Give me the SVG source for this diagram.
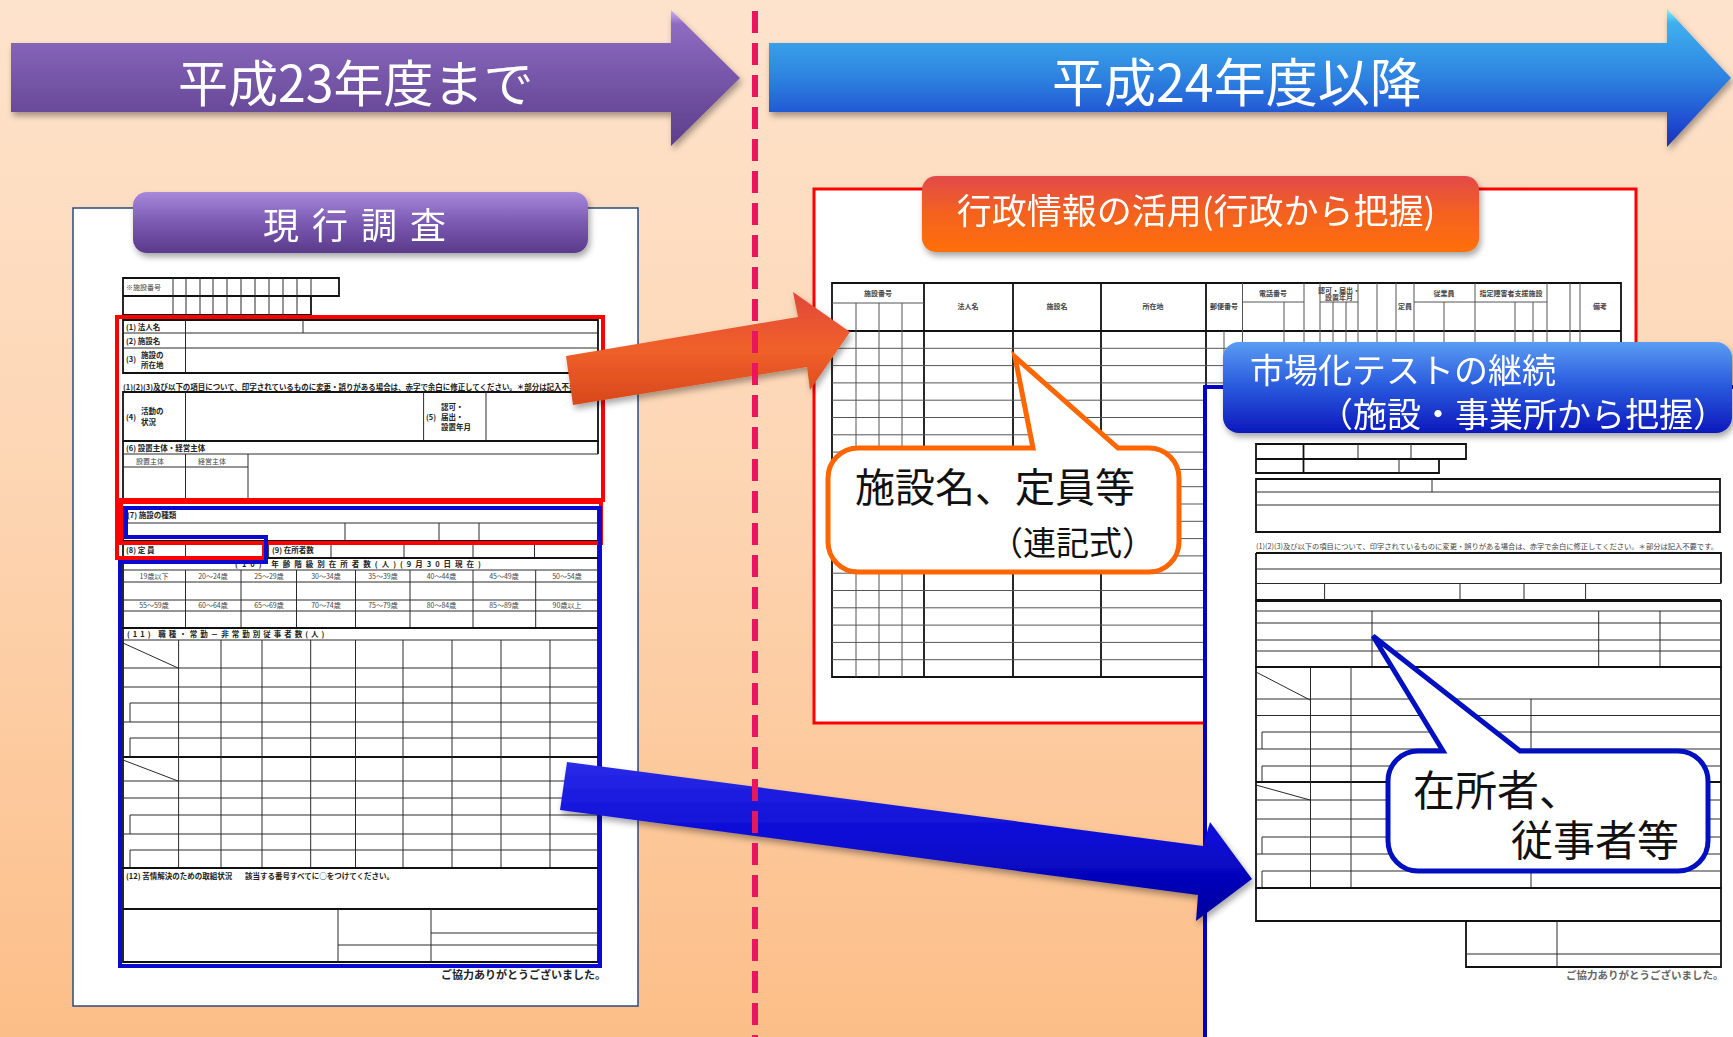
<svg xmlns="http://www.w3.org/2000/svg" width="1733" height="1037" viewBox="0 0 1733 1037">
<defs>
<linearGradient id="bg" x1="0" y1="0" x2="0" y2="1">
<stop offset="0" stop-color="#fee3cc"/><stop offset="0.45" stop-color="#fdd6b4"/><stop offset="1" stop-color="#fcbe88"/>
</linearGradient>
<linearGradient id="gPurple" x1="0" y1="0" x2="0" y2="1">
<stop offset="0" stop-color="#d2b2f5"/><stop offset="0.1" stop-color="#8e6cc2"/><stop offset="0.5" stop-color="#7656a8"/><stop offset="1" stop-color="#5c3e8a"/>
</linearGradient>
<linearGradient id="gBlueH" x1="0" y1="0" x2="0" y2="1">
<stop offset="0" stop-color="#7ff0ff"/><stop offset="0.1" stop-color="#3fb0ee"/><stop offset="0.5" stop-color="#2d82e0"/><stop offset="0.85" stop-color="#1f48d0"/><stop offset="1" stop-color="#1a30b4"/>
</linearGradient>
<linearGradient id="gTabP" x1="0" y1="0" x2="0" y2="1">
<stop offset="0" stop-color="#a888da"/><stop offset="0.5" stop-color="#7b5ab2"/><stop offset="1" stop-color="#5a3a8a"/>
</linearGradient>
<linearGradient id="gTabO" x1="0" y1="0" x2="0" y2="1">
<stop offset="0" stop-color="#e24a4a"/><stop offset="0.5" stop-color="#f4621e"/><stop offset="1" stop-color="#ff700a"/>
</linearGradient>
<linearGradient id="gTabB" x1="0" y1="0" x2="0" y2="1">
<stop offset="0" stop-color="#5a9cf2"/><stop offset="0.45" stop-color="#2c5ee0"/><stop offset="1" stop-color="#0c18bc"/>
</linearGradient>
<linearGradient id="gRedA" x1="0" y1="0" x2="0" y2="1">
<stop offset="0" stop-color="#e0483a"/><stop offset="0.5" stop-color="#f0602a"/><stop offset="1" stop-color="#d8481c"/>
</linearGradient>
<linearGradient id="gBlueA" x1="0" y1="0" x2="0" y2="1">
<stop offset="0" stop-color="#2a2ae8"/><stop offset="0.5" stop-color="#0a0ad4"/><stop offset="1" stop-color="#00009c"/>
</linearGradient>
<filter id="sh" x="-10%" y="-20%" width="120%" height="150%">
<feDropShadow dx="2" dy="4" stdDeviation="3" flood-color="#000" flood-opacity="0.35"/>
</filter>
<style>
.f{font-family:"Noto Sans CJK JP","Noto Sans",sans-serif}
.ln{fill:none;stroke:#2a2a2a;stroke-width:1}
.lg{fill:none;stroke:#555;stroke-width:1}
.tk{fill:none;stroke:#111;stroke-width:1.8}
.tiny{font-family:"Noto Sans CJK JP","Noto Sans",sans-serif;font-size:7px;fill:#444}
.tb{font-family:"Noto Sans CJK JP","Noto Sans",sans-serif;font-size:7.5px;fill:#222;font-weight:bold}
.wt{fill:#fff}
</style>
</defs>

<rect x="0" y="0" width="1733" height="1037" fill="url(#bg)"/>

<g id="arrow-h23" filter="url(#sh)">
<path d="M11,43 H671 V10 L740,78 L671,146 V112 H11 Z" fill="url(#gPurple)"/>
<text class="f wt" x="178" y="102" font-size="50">平成23年度まで</text>
</g>

<g id="arrow-h24" filter="url(#sh)">
<path d="M769,43 H1667 V9 L1731,78 L1667,147 V112 H769 Z" fill="url(#gBlueH)"/>
<text class="f wt" x="1052" y="102" font-size="52">平成24年度以降</text>
</g>

<g id="current-survey-form">
<rect x="73" y="208" width="565" height="798" fill="#fff" stroke="#2c4a7c" stroke-width="1.5"/>
<path class="tk" d="M123,278 H339 V296 H123 Z M123,296 H311 V315 H123 Z"/>
<path class="ln" d="M173,278 V315 M186,278 V315 M200,278 V315 M213,278 V315 M227,278 V315 M241,278 V315 M255,278 V315 M269,278 V315 M283,278 V315 M297,278 V315 M311,278 V296"/>
<text class="tiny" x="126" y="290">※施設番号</text>
<path class="tk" d="M123,320 H598 V373 H123 Z"/>
<path class="ln" d="M123,333 H598 M123,348 H598 M185.5,320 V373 M303,320 V333"/>
<text class="tb" x="126" y="330">(1) 法人名</text>
<text class="tb" x="126" y="344">(2) 施設名</text>
<text class="tb" x="126" y="362">(3)</text>
<text class="tb" x="141" y="358">施設の</text>
<text class="tb" x="141" y="368">所在地</text>
<text class="tb" x="123" y="390" textLength="475" lengthAdjust="spacingAndGlyphs">(1)(2)(3)及び以下の項目について、印字されているものに変更・誤りがある場合は、赤字で余白に修正してください。＊部分は記入不要です。</text>
<path class="tk" d="M123,392 H598 V441 H123 Z"/>
<path class="ln" d="M185.5,392 V441 M423.6,392 V441 M486,392 V441"/>
<text class="tb" x="126" y="420">(4)</text>
<text class="tb" x="141" y="414">活動の</text>
<text class="tb" x="141" y="425">状況</text>
<text class="tb" x="426" y="420">(5)</text>
<text class="tb" x="441" y="410">認可・</text>
<text class="tb" x="441" y="420">届出・</text>
<text class="tb" x="441" y="430">設置年月</text>
<path class="tk" d="M123,441 H598 V454 M123,441 V498"/>
<path class="ln" d="M123,454 H598 M123,467 H248 M185.5,454 V498 M248,454 V498"/>
<text class="tb" x="126" y="451">(6) 設置主体・経営主体</text>
<text class="tiny" x="136" y="464">設置主体</text>
<text class="tiny" x="198" y="464">経営主体</text>
<path class="tk" d="M123,507 H598 V541 H123 Z"/>
<path class="ln" d="M123,523 H598 M345,523 V541 M439,523 V541 M479,523 V541"/>
<text class="tb" x="127" y="518">(7) 施設の種類</text>
<path class="tk" d="M123,541 H598 V558 H123 Z"/>
<path class="ln" d="M185.5,541 V558 M268.6,541 V558 M331,541 V558 M404,541 V558 M473,541 V558 M534.5,541 V558"/>
<text class="tb" x="126" y="553">(8) 定 員</text>
<text class="tb" x="272" y="553">(9) 在所者数</text>
<path class="tk" d="M123,558 H598 V628 H123 Z"/>
<path class="ln" d="M123,570 H598 M123,582 H598 M123,600 H598 M123,611 H598 M185.5,570 V628 M241,570 V628 M296.5,570 V628 M355.5,570 V628 M410,570 V628 M473,570 V628 M535.7,570 V628"/>
<text class="tb" x="360" y="567" text-anchor="middle" letter-spacing="4">(10) 年齢階級別在所者数(人)(9月30日現在)</text>
<g class="tiny" text-anchor="middle">
<text x="154" y="579">19歳以下</text><text x="213" y="579">20～24歳</text><text x="269" y="579">25～29歳</text><text x="326" y="579">30～34歳</text><text x="383" y="579">35～39歳</text><text x="441.5" y="579">40～44歳</text><text x="504" y="579">45～49歳</text><text x="567" y="579">50～54歳</text>
<text x="154" y="608">55～59歳</text><text x="213" y="608">60～64歳</text><text x="269" y="608">65～69歳</text><text x="326" y="608">70～74歳</text><text x="383" y="608">75～79歳</text><text x="441.5" y="608">80～84歳</text><text x="504" y="608">85～89歳</text><text x="567" y="608">90歳以上</text>
</g>
<path class="tk" d="M123,628 H598 V868 H123 Z M123,757 H598"/>
<path class="ln" d="M123,640 H598 M123,668 H598 M123,687 H598 M130,703 H598 M123,722 H598 M130,738 H598 M123,781 H598 M123,798 H598 M130,815 H598 M123,834 H598 M130,850 H598 M130,703 V722 M130,738 V757 M130,815 V834 M130,850 V868 M178.6,640 V868 M221,640 V868 M262,640 V868 M310.7,640 V868 M355.5,640 V868 M403,640 V868 M452,640 V868 M501,640 V868 M550,640 V868 M123,643 L178,668 M123,760 L178,781"/>
<text class="tb" x="127" y="637" letter-spacing="3">(11) 職種・常勤－非常勤別従事者数(人)</text>
<path class="tk" d="M123,868 H598 V962 H123 Z M123,909 H598"/>
<path class="ln" d="M338,909 V962 M431,909 V962 M338,945 H598 M431,933 H598"/>
<text class="tb" x="126" y="879">(12) 苦情解決のための取組状況</text>
<text class="tb" x="245" y="879">該当する番号すべてに○をつけてください。</text>
<text class="f" x="441" y="979" font-size="11" font-weight="bold" fill="#222">ご協力ありがとうございました。</text>
<rect x="117" y="317" width="486" height="183" fill="none" stroke="#ff0000" stroke-width="4"/>
<rect x="121" y="502" width="480" height="41" fill="none" stroke="#ff0000" stroke-width="4"/>
<path d="M117,500 V558 H264 V543" fill="none" stroke="#ff0000" stroke-width="4"/>
<path d="M126,508 H600 V966 H120 V562 H266 V537 H126 Z" fill="none" stroke="#0a0ad0" stroke-width="4"/>
</g>

<g id="tab-current" filter="url(#sh)">
<rect x="133" y="192" width="455" height="61" rx="14" fill="url(#gTabP)"/>
<text class="f wt" x="361" y="239" font-size="36" text-anchor="middle" letter-spacing="13">現行調査</text>
</g>

<g id="admin-info-box">
<rect x="814" y="189" width="822" height="534" fill="#fff" stroke="#ff0000" stroke-width="3"/>
<path class="tk" d="M832,283 H1621 V677 H832 Z M832,331 H1621 M924,283 V677 M1013,283 V677 M1101,283 V677 M1206,283 V677"/>
<path class="lg" d="M832,303 H924 M1242.5,302 H1304 M1320,302 H1358 M1414,302 H1475 M1475,302 H1547
M1242.5,283 V677 M1304,283 V677 M1320,283 V677 M1358,283 V677 M1377,283 V677 M1396,283 V677 M1414,283 V677 M1475,283 V677 M1547,283 V677 M1570,283 V677 M1580,283 V677
M856,303 V677 M879,303 V677 M902,303 V677 M1284,302 V677 M1333,302 V677 M1346,302 V677 M1444,302 V677 M1515,302 V677 M1533,302 V677 M1224,331 V677
M832,348.3 H1621 M832,365.6 H1621 M832,382.9 H1621 M832,400.2 H1621 M832,417.5 H1621 M832,434.8 H1621 M832,452.1 H1621 M832,469.4 H1621 M832,486.7 H1621 M832,504 H1621 M832,521.3 H1621 M832,538.6 H1621 M832,555.9 H1621 M832,573.2 H1621 M832,590.5 H1621 M832,607.8 H1621 M832,625.1 H1621 M832,642.4 H1621 M832,659.7 H1621"/>
<g class="tiny" font-size="6.5" font-weight="bold" text-anchor="middle" fill="#333">
<text x="878" y="296">施設番号</text>
<text x="968" y="309">法人名</text>
<text x="1057" y="309">施設名</text>
<text x="1153" y="309">所在地</text>
<text x="1224" y="309">郵便番号</text>
<text x="1273" y="296">電話番号</text>
<text x="1339" y="293">認可・届出・</text>
<text x="1339" y="300">設置年月</text>
<text x="1444" y="296">従業員</text>
<text x="1511" y="296">指定障害者支援施設</text>
<text x="1405" y="309">定員</text>
<text x="1600" y="309">備考</text>
</g>
</g>

<g id="tab-admin" filter="url(#sh)">
<rect x="922" y="176" width="557" height="76" rx="14" fill="url(#gTabO)"/>
<text class="f wt" x="1196" y="224" font-size="35" text-anchor="middle">行政情報の活用(行政から把握)</text>
</g>

<g id="callout-admin">
<path d="M858,448 H1033 L1015,357 L1118,448 H1149 A30,30 0 0 1 1179,478 V542 A30,30 0 0 1 1149,572 H858 A30,30 0 0 1 828,542 V478 A30,30 0 0 1 858,448 Z" fill="#fff" stroke="#ff6600" stroke-width="5"/>
<text class="f" x="855" y="502" font-size="40" fill="#111">施設名、定員等</text>
<text class="f" x="990" y="555" font-size="33" fill="#111">（連記式）</text>
</g>

<g id="market-test-form">
<rect x="1205" y="387" width="600" height="700" fill="#fff" stroke="#0000cc" stroke-width="4"/>
<path class="tk" d="M1256,444 H1466 V459 H1256 Z M1256,459 H1439 V473 H1256 Z M1303.5,444 V473"/>
<path class="ln" d="M1358,444 V459 M1411,444 V459 M1399,459 V473"/>
<path class="tk" d="M1256,479 H1720 V532 H1256 Z"/>
<path class="ln" d="M1256,492 H1720 M1256,505 H1720 M1432,479 V492"/>
<path class="tk" d="M1256,553 H1721 V583.5 M1256,553 V600 H1721"/>
<path class="ln" d="M1256,569 H1721 M1256,583.5 H1721 M1324.6,583.5 V600 M1460,583.5 V600 M1524,583.5 V600 M1585.6,583.5 V600"/>
<path class="tk" d="M1256,601 H1721 V667 H1256 Z"/>
<path class="ln" d="M1256,611 H1721 M1256,623 H1721 M1256,640 H1721 M1256,651 H1721 M1372,611 V667 M1598.7,611 V667 M1660,611 V667"/>
<path class="tk" d="M1256,667 H1721 V888 H1256 Z M1256,782 H1721"/>
<path class="ln" d="M1256,699 H1721 M1256,715.5 H1721 M1262,732 H1721 M1256,749 H1721 M1262,766 H1721 M1256,800 H1721 M1256,819 H1721 M1262,837 H1721 M1256,854 H1721 M1262,871 H1721 M1262,732 V749 M1262,766 V782 M1262,837 V854 M1262,871 V888 M1310.5,667 V888 M1351,667 V888 M1531,699 V888 M1256,672 L1310,700 M1256,785 L1310,800"/>
<path class="tk" d="M1256,888 H1721 V921 H1256 Z M1466,921 H1721 V967 H1466 Z"/>
<path class="ln" d="M1557,921 V967 M1466,954 H1721"/>
<text class="tiny" x="1256" y="549" textLength="462" lengthAdjust="spacingAndGlyphs" fill="#777">(1)(2)(3)及び以下の項目について、印字されているものに変更・誤りがある場合は、赤字で余白に修正してください。＊部分は記入不要です。</text>
<text class="f" x="1566" y="979" font-size="10.5" fill="#666" font-weight="bold">ご協力ありがとうございました。</text>
</g>

<g id="tab-market" filter="url(#sh)">
<rect x="1223" y="342" width="509" height="91" rx="16" fill="url(#gTabB)"/>
<text class="f wt" x="1250" y="383" font-size="34">市場化テストの継続</text>
<text class="f wt" x="1319" y="427" font-size="34">（施設・事業所から把握）</text>
</g>

<g id="callout-market">
<path d="M1418,751 H1443 L1373,636 L1520,751 H1678 A30,30 0 0 1 1708,781 V841 A30,30 0 0 1 1678,871 H1418 A30,30 0 0 1 1388,841 V781 A30,30 0 0 1 1418,751 Z" fill="#fff" stroke="#0010c0" stroke-width="5"/>
<text class="f" x="1413" y="806" font-size="42" fill="#111">在所者、</text>
<text class="f" x="1511" y="856" font-size="42" fill="#111">従事者等</text>
</g>

<g id="connectors">
<path d="M566,356 L798,317 L793,292 L850,332 L810,390 L807,367 L573,405 Z" fill="url(#gRedA)" filter="url(#sh)"/>
<path d="M567,762 L1203,846 L1210,822 L1252,879 L1196,921 L1198,895 L560,810 Z" fill="url(#gBlueA)" filter="url(#sh)"/>
<line x1="755" y1="11" x2="755" y2="1037" stroke="#e8175d" stroke-width="6" stroke-dasharray="22 10"/>
</g>
</svg>
